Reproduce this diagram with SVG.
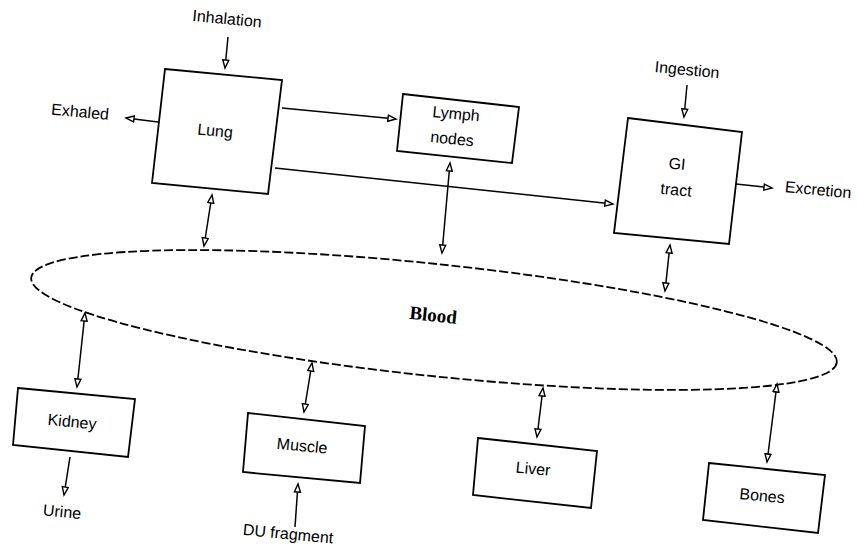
<svg xmlns="http://www.w3.org/2000/svg" width="857" height="555" viewBox="0 0 857 555">
<style>
.box{fill:#fff;stroke:#000;stroke-width:1.8}
.lbl{font-family:"Liberation Sans",Arial,sans-serif;font-size:16px;fill:#000;text-anchor:middle;dominant-baseline:middle}
.blood{font-family:"Liberation Serif","Times New Roman",serif;font-size:19px;font-weight:bold;fill:#000;text-anchor:middle;dominant-baseline:middle}
.ln{fill:none;stroke:#000;stroke-width:1.5}
.bi{marker-start:url(#ah);marker-end:url(#ah)}
.one{marker-end:url(#ah)}
</style>
<defs>
<marker id="ah" markerUnits="userSpaceOnUse" markerWidth="11" markerHeight="9" refX="9" refY="4" orient="auto-start-reverse">
<path d="M1,1 L9,4 L1,7 z" fill="#fff" stroke="#000" stroke-width="1.4"/>
</marker>
</defs>
<rect width="857" height="555" fill="#fff"/>

<g id="blood">
<ellipse cx="434" cy="320" rx="405" ry="56" transform="rotate(6 434 320)" fill="none" stroke="#000" stroke-width="1.8" stroke-dasharray="9 3"/>
<text class="blood" x="433" y="317" transform="rotate(6 433 317)">Blood</text>
</g>

<g id="lung">
<polygon class="box" points="165,69 282,80 268,194 152,183"/>
<text class="lbl" x="215" y="132" transform="rotate(5.5 215 132)">Lung</text>
</g>

<g id="lymph">
<polygon class="box" points="403,94 519,107 512,163 397,151"/>
<text class="lbl" x="456" y="115" transform="rotate(5.5 456 115)">Lymph</text>
<text class="lbl" x="452" y="140" transform="rotate(5.5 452 140)">nodes</text>
</g>

<g id="gi">
<polygon class="box" points="628,118 742,132 729,244 614,233"/>
<text class="lbl" x="677" y="165" transform="rotate(5.5 677 165)">GI</text>
<text class="lbl" x="676" y="191" transform="rotate(5.5 676 191)">tract</text>
</g>

<g id="kidney">
<polygon class="box" points="18,388 135,399 128,457 13,445"/>
<text class="lbl" x="72" y="423" transform="rotate(5.5 72 423)">Kidney</text>
</g>

<g id="muscle">
<polygon class="box" points="248,413 365,426 360,483 243,472"/>
<text class="lbl" x="302" y="447" transform="rotate(5.5 302 447)">Muscle</text>
</g>

<g id="liver">
<polygon class="box" points="478,438 597,451 591,508 473,495"/>
<text class="lbl" x="533" y="470" transform="rotate(5.5 533 470)">Liver</text>
</g>

<g id="bones">
<polygon class="box" points="709,463 825,475 818,533 703,520"/>
<text class="lbl" x="762" y="497" transform="rotate(5.5 762 497)">Bones</text>
</g>

<g id="labels">
<text class="lbl" x="227" y="20" transform="rotate(5.5 227 20)">Inhalation</text>
<text class="lbl" x="80" y="113" transform="rotate(5.5 80 113)">Exhaled</text>
<text class="lbl" x="687" y="71" transform="rotate(5.5 687 71)">Ingestion</text>
<text class="lbl" x="818" y="191" transform="rotate(5.5 818 191)">Excretion</text>
<text class="lbl" x="62" y="513" transform="rotate(5.5 62 513)">Urine</text>
<text class="lbl" x="288" y="535" transform="rotate(5.5 288 535)">DU fragment</text>
</g>

<g id="connectors">
<line class="ln one" x1="228" y1="37" x2="225" y2="68"/>
<line class="ln one" x1="158" y1="122" x2="126" y2="118"/>
<line class="ln one" x1="282" y1="108" x2="396" y2="119"/>
<line class="ln one" x1="275" y1="168" x2="613" y2="204"/>
<line class="ln one" x1="687" y1="85" x2="684" y2="117"/>
<line class="ln one" x1="736" y1="184" x2="772" y2="188"/>
<line class="ln bi" x1="212" y1="195" x2="204" y2="246"/>
<line class="ln bi" x1="450" y1="163" x2="442" y2="253"/>
<line class="ln bi" x1="670" y1="245" x2="665" y2="291"/>
<line class="ln bi" x1="85" y1="313" x2="77" y2="387"/>
<line class="ln one" x1="70" y1="457" x2="64" y2="495"/>
<line class="ln bi" x1="312" y1="363" x2="304" y2="412"/>
<line class="ln one" x1="295" y1="527" x2="298" y2="484"/>
<line class="ln bi" x1="543" y1="388" x2="537" y2="437"/>
<line class="ln bi" x1="777" y1="384" x2="767" y2="462"/>
</g>
</svg>
